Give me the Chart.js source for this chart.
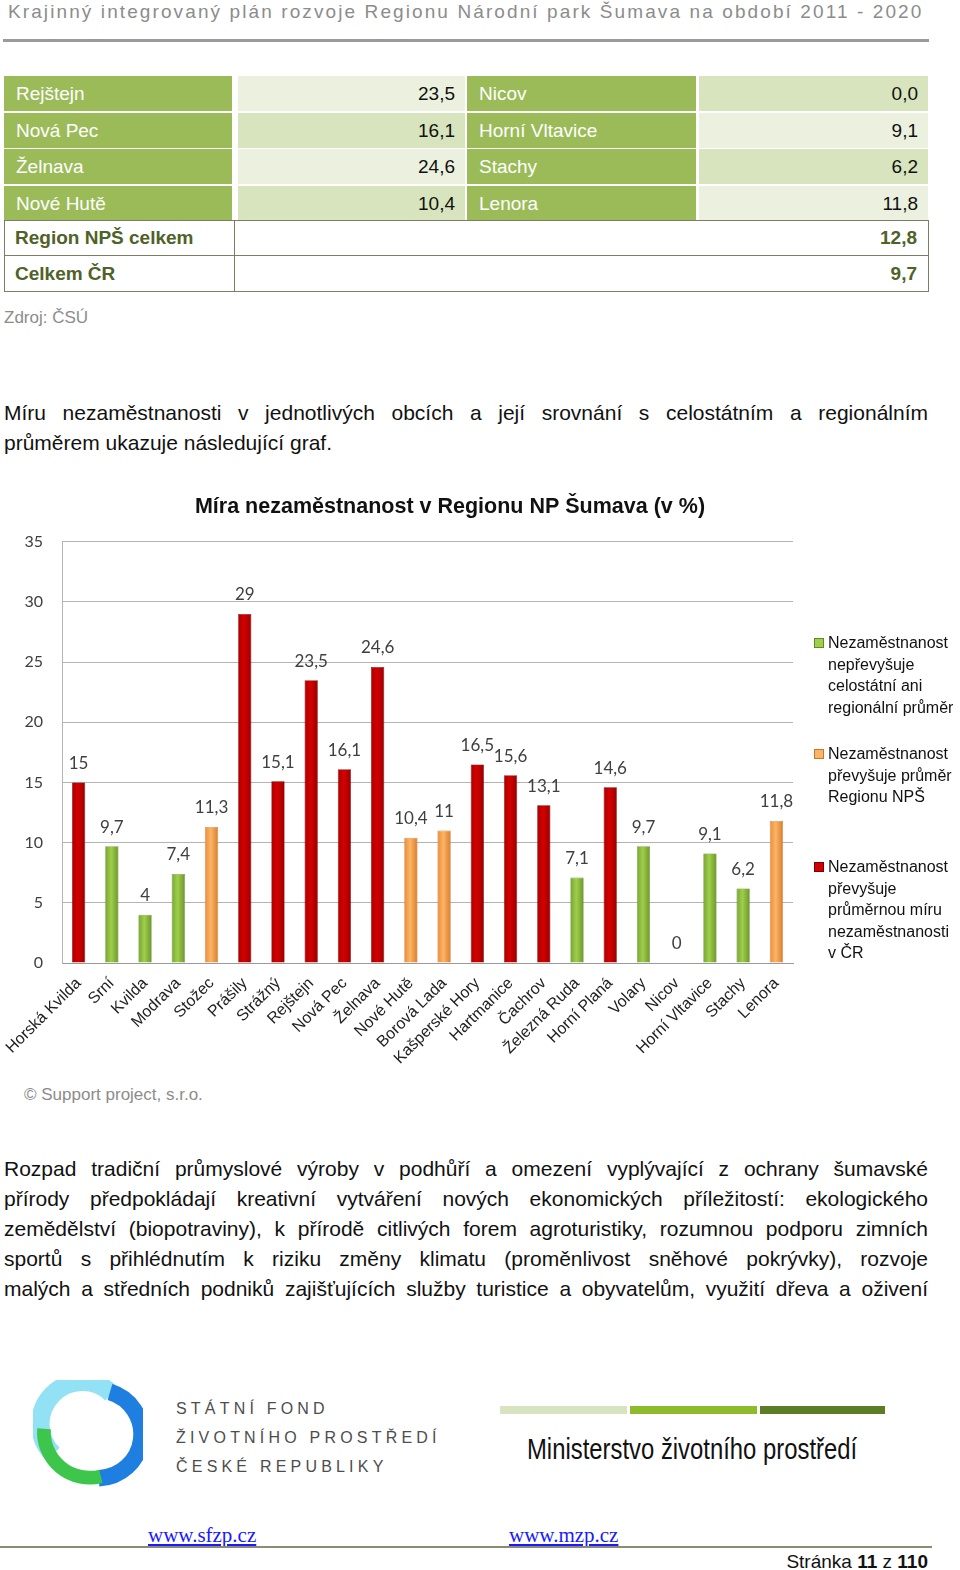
<!DOCTYPE html>
<html lang="cs">
<head>
<meta charset="utf-8">
<title>Míra nezaměstnanosti v Regionu NP Šumava</title>
<script src="https://cdn.jsdelivr.net/npm/chart.js@4.4.0/dist/chart.umd.min.js"></script>
<style>
  body { margin: 0; background: #fff; font-family: "Liberation Sans", Arial, sans-serif; }
  #page { position: relative; width: 960px; height: 1570px; overflow: hidden; }
  .abs { position: absolute; white-space: nowrap; }
  .hdr { left: 8px; top: 1px; font-size: 19px; color: #8c8c8c; letter-spacing: 2.1px; }
  .hdr-line { left: 3px; top: 39px; width: 926px; height: 3px; background: #9a9a9a; }
  .cell { position: absolute; height: 35px; line-height: 35px; font-size: 19px; box-sizing: border-box; }
  .g { background: #9bbb59; color: #fff; padding-left: 12px; }
  .l1 { background: #ebf1de; color: #111; text-align: right; padding-right: 10px; }
  .l2 { background: #d7e4bd; color: #111; text-align: right; padding-right: 10px; }
  .tot { border: 1.5px solid #7d7d62; height: 72px; left: 4px; top: 220px; width: 925px; box-sizing: border-box; }
  .tot div { position: absolute; font-weight: bold; color: #4f6228; font-size: 19px; }
  .src { font-size: 17px; color: #8c8c8c; }
  .para { position: absolute; left: 4px; width: 924px; font-size: 21px; line-height: 30px; color: #111; }
  .para div { white-space: nowrap; text-align: justify; text-align-last: justify; }
  .para div.last { text-align-last: left; }
  #chartBox { position: absolute; left: 0; top: 480px; width: 900px; height: 593px; }
  #legend { position: absolute; left: 0; top: 0; }
  .lg-item { position: absolute; left: 814px; width: 146px; font-size: 16px; line-height: 21.5px; color: #111; }
  .lg-item span.box { position: absolute; left: 0; top: 6px; width: 8px; height: 8px; }
  .lg-item div.txt { margin-left: 14px; width: 132px; white-space: normal; }
  .sfzp { font-size: 16px; color: #4d4d4d; letter-spacing: 4.2px; }
  .bar { position: absolute; top: 1406px; height: 8px; }
  .link { font-family: "Liberation Serif", "Times New Roman", serif; font-size: 21px; color: #1a1aff; text-decoration: underline; }
</style>
</head>
<body>
<div id="page">

  <!-- hlavička stránky -->
  <div class="abs hdr">Krajinný integrovaný plán rozvoje Regionu Národní park Šumava na období 2011 - 2020</div>
  <div class="abs hdr-line"></div>

  <!-- tabulka -->
  <div id="table"></div>
  <div class="abs tot">
    <div style="left:10px; top:6px;">Region NPŠ celkem</div>
    <div style="right:11px; top:6px;">12,8</div>
    <div style="left:-1px; top:34px; width:925px; height:0; border-top:1.5px solid #7d7d62;"></div>
    <div style="left:10px; top:42px;">Celkem ČR</div>
    <div style="right:11px; top:42px;">9,7</div>
    <div style="left:229px; top:0; width:0; height:70px; border-left:1.5px solid #7d7d62;"></div>
  </div>
  <div class="abs src" style="left:4px; top:308px;">Zdroj: ČSÚ</div>

  <div class="para" style="top:398px;">
    <div>Míru nezaměstnanosti v&nbsp;jednotlivých obcích a její srovnání s&nbsp;celostátním a regionálním</div>
    <div class="last">průměrem ukazuje následující graf.</div>
  </div>

  <!-- graf -->
  <div id="chartBox"><canvas id="unempChart" width="900" height="593"></canvas></div>
  <div id="legend"></div>

  <div class="abs src" style="left:24px; top:1085px;">© Support project, s.r.o.</div>

  <div class="para" style="top:1154px;">
    <div>Rozpad tradiční průmyslové výroby v podhůří a omezení vyplývající z ochrany šumavské</div>
    <div>přírody předpokládají kreativní vytváření nových ekonomických příležitostí: ekologického</div>
    <div>zemědělství (biopotraviny), k přírodě citlivých forem agroturistiky, rozumnou podporu zimních</div>
    <div>sportů s přihlédnutím k riziku změny klimatu (proměnlivost sněhové pokrývky), rozvoje</div>
    <div>malých a středních podniků zajišťujících služby turistice a obyvatelům, využití dřeva a oživení</div>
  </div>

  <!-- loga -->
  <svg class="abs" style="left:33px; top:1380px;" width="110" height="112" viewBox="0 0 120 120">
    <path d="M22 80 A44 44 0 0 1 86 14" fill="none" stroke="#92e1f4" stroke-width="20"/>
    <path d="M84 12 A48 48 0 0 1 72 106" fill="none" stroke="#1f7fe0" stroke-width="18"/>
    <path d="M74 104 A50 50 0 0 1 12 52" fill="none" stroke="#3ec64c" stroke-width="15"/>
    <circle cx="64" cy="60" r="31" fill="#fff"/>
  </svg>
  <div class="abs sfzp" style="left:176px; top:1400px;">STÁTNÍ FOND</div>
  <div class="abs sfzp" style="left:176px; top:1429px;">ŽIVOTNÍHO PROSTŘEDÍ</div>
  <div class="abs sfzp" style="left:176px; top:1458px;">ČESKÉ REPUBLIKY</div>

  <div class="bar" style="left:500px; width:127px; background:#d8e4bf;"></div>
  <div class="bar" style="left:630px; width:127px; background:#8dbb2c;"></div>
  <div class="bar" style="left:760px; width:125px; background:#5b7d26;"></div>
  <div class="abs" id="mzp" style="left:527px; top:1432px; font-size:30px; color:#111; transform-origin:0 0;">Ministerstvo životního prostředí</div>

  <div class="abs link" style="left:148px; top:1523px;">www.sfzp.cz</div>
  <div class="abs link" style="left:509px; top:1523px;">www.mzp.cz</div>
  <div class="abs" style="left:0; top:1546px; width:932px; height:2px; background:#8c8c74;"></div>
  <div class="abs" style="right:32px; top:1551px; font-size:19px; color:#111;">Stránka <b>11</b> z <b>110</b></div>
</div>

<script>
// ---------------- tabulka ----------------
const tableLeftNames = ['Rejštejn', 'Nová Pec', 'Želnava', 'Nové Hutě'];
const tableLeftValues = ['23,5', '16,1', '24,6', '10,4'];
const tableRightNames = ['Nicov', 'Horní Vltavice', 'Stachy', 'Lenora'];
const tableRightValues = ['0,0', '9,1', '6,2', '11,8'];

let tableHtml = '';
for (let i = 0; i < 4; i++) {
  const top = 76 + i * 36.6;
  const a = i % 2 === 0 ? 'l1' : 'l2';
  const b = i % 2 === 0 ? 'l2' : 'l1';
  tableHtml += `
    <div class="cell g" style="left:4px; top:${top}px; width:228px;">${tableLeftNames[i]}</div>
    <div class="cell ${a}" style="left:238px; top:${top}px; width:227px;">${tableLeftValues[i]}</div>
    <div class="cell g" style="left:467px; top:${top}px; width:229px;">${tableRightNames[i]}</div>
    <div class="cell ${b}" style="left:699px; top:${top}px; width:229px;">${tableRightValues[i]}</div>`;
}
document.getElementById('table').innerHTML = tableHtml;

// zúžení nápisu MŽP na šířku loga
const mzp = document.getElementById('mzp');
mzp.style.transform = 'scaleX(' + (330 / mzp.offsetWidth) + ')';

// ---------------- data grafu ----------------
const obce = ['Horská Kvilda', 'Srní', 'Kvilda', 'Modrava', 'Stožec', 'Prášily', 'Strážný',
  'Rejštejn', 'Nová Pec', 'Želnava', 'Nové Hutě', 'Borová Lada', 'Kašperské Hory',
  'Hartmanice', 'Čachrov', 'Železná Ruda', 'Horní Planá', 'Volary', 'Nicov',
  'Horní Vltavice', 'Stachy', 'Lenora'];

// nepřevyšuje průměr (zelená)
const podPrumerem = [null, 9.7, 4, 7.4, null, null, null, null, null, null, null, null,
  null, null, null, 7.1, null, 9.7, 0, 9.1, 6.2, null];
// převyšuje průměr regionu (oranžová)
const nadRegionem = [null, null, null, null, 11.3, null, null, null, null, null, 10.4, 11,
  null, null, null, null, null, null, null, null, null, 11.8];
// převyšuje průměr ČR (červená)
const nadCR = [15, null, null, null, null, 29, 15.1, 23.5, 16.1, 24.6, null, null,
  16.5, 15.6, 13.1, null, 14.6, null, null, null, null, null];

const nazvySerii = [
  'Nezaměstnanost nepřevyšuje celostátní ani regionální průměr',
  'Nezaměstnanost převyšuje průměr Regionu NPŠ',
  'Nezaměstnanost převyšuje průměrnou míru nezaměstnanosti v ČR'
];
const yMax = 35;
const yStep = 5;

// barvy: [hrana, střed, hrana]
const barvy = [
  ['#76a234', '#9fce4a', '#6a932c'],
  ['#e98a38', '#fbb466', '#d97a2a'],
  ['#a80000', '#d40000', '#960000']
];

function prechod(idx) {
  return function(context) {
    const chart = context.chart;
    const c = barvy[idx];
    if (!chart.chartArea || context.type !== 'data') return c[1];
    const x = chart.scales.x.getPixelForValue(context.dataIndex);
    const g = chart.ctx.createLinearGradient(x - 7, 0, x + 7, 0);
    g.addColorStop(0, c[0]);
    g.addColorStop(0.45, c[1]);
    g.addColorStop(1, c[2]);
    return g;
  };
}

// popisky hodnot nad sloupci
const popiskyPlugin = {
  id: 'popisky',
  afterDatasetsDraw(chart) {
    const ctx = chart.ctx;
    ctx.save();
    ctx.font = '17px Lato';
    ctx.fillStyle = '#404040';
    ctx.textAlign = 'center';
    ctx.textBaseline = 'middle';
    chart.data.datasets.forEach((ds, i) => {
      const meta = chart.getDatasetMeta(i);
      meta.data.forEach((bar, j) => {
        const v = ds.data[j];
        if (v === null || v === undefined) return;
        ctx.fillText(String(v).replace('.', ','), bar.x, bar.y - 19);
      });
    });
    ctx.restore();
  }
};

const ctx = document.getElementById('unempChart').getContext('2d');
const unempChart = new Chart(ctx, {
  type: 'bar',
  data: {
    labels: obce,
    datasets: [
      { label: nazvySerii[0], data: podPrumerem, backgroundColor: prechod(0), borderColor: '#5f8a28' },
      { label: nazvySerii[1], data: nadRegionem, backgroundColor: prechod(1), borderColor: '#c7772c' },
      { label: nazvySerii[2], data: nadCR, backgroundColor: prechod(2), borderColor: '#7a0000' }
    ]
  },
  options: {
    responsive: false,
    animation: false,
    barPercentage: 0.4,
    categoryPercentage: 1,
    borderWidth: 0.6,
    layout: { padding: 0 },
    scales: {
      x: {
        stacked: true,
        grid: { display: false },
        border: { display: true, color: '#9a9a9a' },
        ticks: {
          autoSkip: false, minRotation: 45, maxRotation: 45, padding: 3,
          color: '#222', font: { family: 'Liberation Sans', size: 16 }
        },
        afterFit: s => { s.height = 110; }
      },
      y: {
        stacked: true,
        min: 0,
        max: yMax,
        grid: { color: '#b4b4b4', drawTicks: false },
        border: { display: true, color: '#b4b4b4' },
        ticks: {
          stepSize: yStep, padding: 19,
          color: '#404040', font: { family: 'Lato', size: 16 }
        },
        afterFit: s => { s.width = 62; }
      },
      // prázdné místo vpravo pro legendu
      mezera: {
        position: 'right',
        grid: { display: false },
        border: { display: false },
        ticks: { display: false },
        afterFit: s => { s.width = 107; }
      }
    },
    plugins: {
      legend: { display: false },
      tooltip: { enabled: false },
      title: {
        display: true,
        text: 'Míra nezaměstnanost v Regionu NP Šumava (v %)',
        color: '#111',
        font: { family: 'Liberation Sans', size: 21.5, weight: 'bold' },
        padding: { top: 14, bottom: 22 }
      }
    }
  },
  plugins: [popiskyPlugin]
});

// legenda vpravo (HTML, aby se text zalamoval)
const legendTops = [632, 743, 856];
let legendHtml = '';
unempChart.data.datasets.forEach((ds, i) => {
  legendHtml += `<div class="lg-item" style="top:${legendTops[i]}px;">
      <span class="box" style="background:${barvy[i][1]}; border:1px solid ${ds.borderColor};"></span>
      <div class="txt">${ds.label}</div></div>`;
});
document.getElementById('legend').innerHTML = legendHtml;
</script>
</body>
</html>
